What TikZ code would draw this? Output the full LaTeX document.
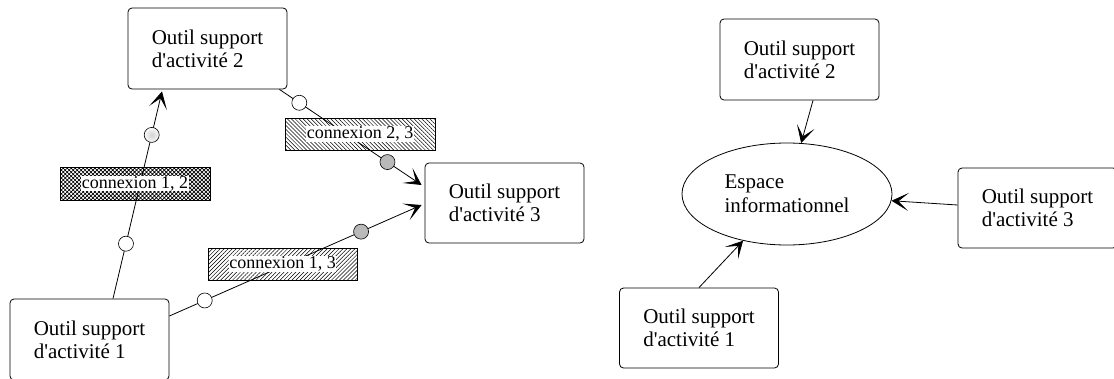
\documentclass[tikz,border=0pt]{standalone}
\usepackage{fontspec}
\setmainfont{Liberation Serif}[Ligatures=TeXOff]
\usetikzlibrary{arrows.meta,patterns.meta,shapes.geometric}
\tikzset{
  tool/.style={draw, rounded corners=4pt, line width=0.8pt, minimum width=159pt, minimum height=81pt,
    align=left, inner sep=0pt, font=\fontsize{21}{23}\selectfont},
  espace/.style={draw, ellipse, line width=0.8pt, minimum width=210pt, minimum height=102pt,
    align=left, inner sep=0pt, font=\fontsize{21}{24}\selectfont},
  conn/.style={line width=0.8pt, -{Stealth[length=17pt,width=18pt,inset=10pt]}},
  lblbox/.style={draw, line width=0.6pt, inner sep=0pt},
  lbltext/.style={fill=white, inner sep=0.6pt, font=\fontsize{18}{20}\selectfont},
  dotw/.style={draw, circle, line width=0.6pt, fill=white, minimum size=15pt, inner sep=0pt},
  dotg/.style={draw, circle, line width=0.6pt, fill=gray!55, minimum size=15pt, inner sep=0pt},
  dotl/.style={draw, circle, line width=0.6pt, inner color=gray!35, outer color=gray!4, minimum size=15pt, inner sep=0pt},
}
\begin{document}
\begin{tikzpicture}[x=1pt,y=-1pt]
\useasboundingbox (0,0) rectangle (1114,378);
% left diagram
\node[tool] (b2) at (207.5,48.5) {Outil support\\d'activit\'e 2};
\node[tool] (b1) at (89.5,339.5) {Outil support\\d'activit\'e 1};
\node[tool, minimum height=80pt] (b3) at (504.5,203) {Outil support\\d'activit\'e 3};
\coordinate (s12) at ([xshift=23.5pt]b1.north);
\coordinate (e12) at ([xshift=-45.5pt,yshift=-2pt]b2.south);
\coordinate (s23) at ([xshift=-8pt]b2.south east);
\coordinate (e23) at ([xshift=-3pt,yshift=18pt]b3.west);
\coordinate (s13) at ([yshift=23.5pt]b1.east);
\coordinate (e13) at ([xshift=-3pt,yshift=-2pt]b3.west);
\draw[conn] (s12) -- (e12)
  node[dotw, pos=0.265] (w12) {}
  node[dotl, pos=0.79] (g12) {};
\draw[conn] (s23) -- (e23)
  node[dotw, pos=0.14] (w23) {}
  node[dotg, pos=0.76] (g23) {};
\draw[conn] (s13) -- (e13)
  node[dotw, pos=0.14] (w13) {}
  node[dotg, pos=0.76] (g13) {};
\node[lblbox, minimum width=150pt, minimum height=33pt,
  pattern={Hatch[angle=45,distance=2.8pt,line width=0.7pt]}] (l12) at (135,183.5) {};
\node[lbltext] (t12) at (l12) {connexion 1, 2};
\node[lblbox, minimum width=150pt, minimum height=32pt,
  pattern={Lines[angle=-45,distance=2.8pt,line width=0.5pt]}] (l23) at (360,134) {};
\node[lbltext] (t23) at (l23) {connexion 2, 3};
\node[lblbox, minimum width=149pt, minimum height=32pt,
  pattern={Lines[angle=45,distance=2.8pt,line width=0.5pt]}] (l13) at (282.5,264) {};
\node[lbltext] (t13) at (l13) {connexion 1, 3};
% right diagram
\node[espace] (e) at (787,194) {Espace\\informationnel};
\node[tool] (r2) at (799.5,59.5) {Outil support\\d'activit\'e 2};
\node[tool, minimum height=80pt] (r1) at (699,328) {Outil support\\d'activit\'e 1};
\node[tool, minimum height=80pt] (r3) at (1037.5,208) {Outil support\\d'activit\'e 3};
\coordinate (sr2) at ([xshift=13.5pt]r2.south);
\coordinate (sr3) at ([yshift=3pt]r3.west);
\draw[conn] (sr2) -- (e);
\draw[conn] (sr3) -- (e);
\draw[conn] (r1.north) -- (e);
\end{tikzpicture}
\end{document}
